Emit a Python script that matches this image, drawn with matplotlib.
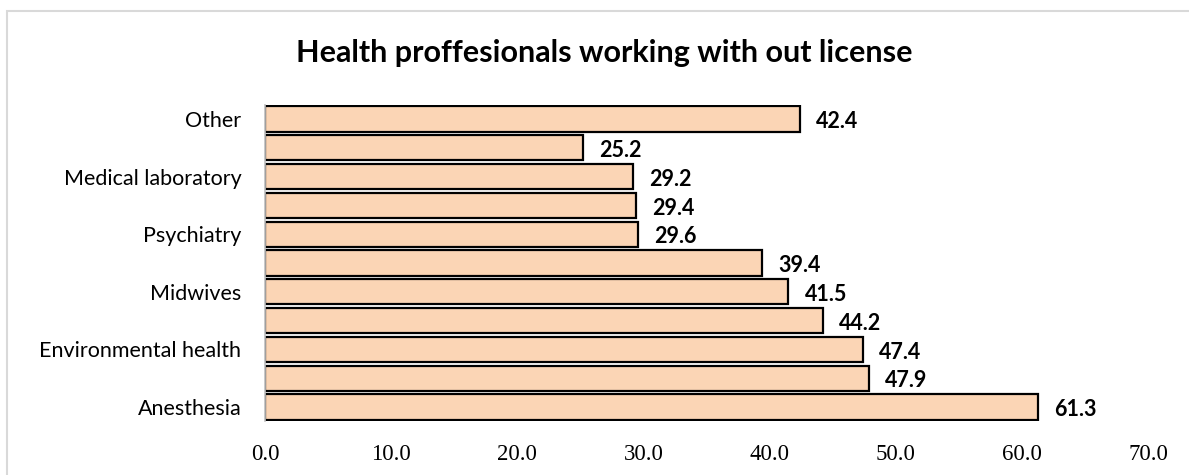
import matplotlib
matplotlib.use("Agg")
import matplotlib.pyplot as plt
from matplotlib.patches import Rectangle

# Share of health professionals working without a license, by profession
categories = ["Anesthesia", "", "Environmental health", "", "Midwives", "",
              "Psychiatry", "", "Medical laboratory", "", "Other"]
values = [61.3, 47.9, 47.4, 44.2, 41.5, 39.4, 29.6, 29.4, 29.2, 25.2, 42.4]
x_ticks = [0, 10, 20, 30, 40, 50, 60, 70]
title = "Health proffesionals working with out license"

W, H = 1189, 475
fig = plt.figure(figsize=(W / 100, H / 100), dpi=100)
fig.patch.set_facecolor("white")

# light chart-area frame
fig.patches.append(Rectangle((7 / W, -0.2), 1.2, 1 - 11 / H + 0.2,
                             transform=fig.transFigure, fill=False,
                             edgecolor="#D9D9D9", linewidth=1.5))

ax = fig.add_axes([265 / W, 1 - 421.4 / H, (1148 - 265) / W, (421.4 - 104.6) / H])
pos = list(range(len(values)))
bars = ax.barh(pos, values, height=0.87, color="#FBD5B5",
               edgecolor="black", linewidth=1.6)

ax.set_xlim(0, 70)
ax.set_ylim(-0.5, len(values) - 0.5)
ax.set_xticks(x_ticks)
ax.set_xticklabels([f"{t:.1f}" for t in x_ticks],
                   fontfamily="Liberation Serif", fontsize=16.5)
ax.set_yticks(pos)
ax.set_yticklabels(categories, fontfamily="Lato", fontsize=15.5)
ax.tick_params(axis="x", length=0, pad=16)
ax.tick_params(axis="y", length=0, pad=17)

for side in ("top", "right", "bottom"):
    ax.spines[side].set_visible(False)
ax.spines["left"].set_color("#BFBFBF")
ax.spines["left"].set_linewidth(1.2)

for b, v in zip(bars, values):
    ax.annotate(f"{v:.1f}", (v, b.get_y() + b.get_height() / 2),
                xytext=(11.5, -2), textcoords="offset points",
                ha="left", va="center", fontfamily="Lato",
                fontweight="bold", fontsize=15.5)

fig.text(604 / W, 1 - 53 / H, title, ha="center", va="center",
         fontfamily="Lato", fontweight="bold", fontsize=22)

fig.savefig("out.png", dpi=100)
